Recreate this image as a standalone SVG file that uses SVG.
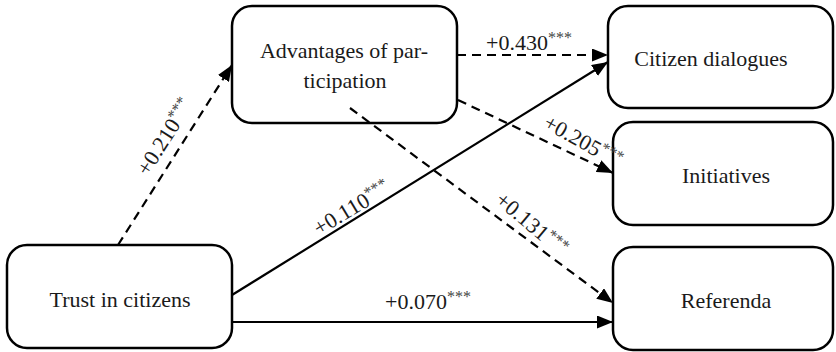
<svg xmlns="http://www.w3.org/2000/svg" width="836" height="352" viewBox="0 0 836 352">
<style>
.box{fill:#fff;stroke:#000;stroke-width:2.5}
.lbl{font-family:Liberation Serif, serif;font-size:22px;fill:#1a1a1a}
.mid{text-anchor:middle}
.sup{font-size:16px;fill:#444}
.ln{fill:none;stroke:#000;stroke-width:2.2}
.dash{stroke-dasharray:9 6}
</style>
<defs>
<marker id="ah" markerUnits="userSpaceOnUse" markerWidth="16" markerHeight="13" viewBox="0 0 16 13" refX="16" refY="6.5" orient="auto">
<path d="M0,0 L16,6.5 L0,13 Z" fill="#000"/>
</marker>
</defs>
<rect width="836" height="352" fill="#fff"/>
<g id="adv">
<rect class="box" x="232" y="6" width="225" height="117" rx="20"/>
<text class="lbl mid" style="font-family:'Liberation Serif',serif" x="344" y="58">Advantages of par-</text>
<text class="lbl mid" style="font-family:'Liberation Serif',serif" x="345" y="88">ticipation</text>
</g>
<g id="cit">
<rect class="box" x="608" y="6" width="225" height="102" rx="20"/>
<text class="lbl mid" style="font-family:'Liberation Serif',serif" x="711" y="66">Citizen dialogues</text>
</g>
<g id="ini">
<rect class="box" x="613" y="122" width="220" height="103" rx="20"/>
<text class="lbl mid" style="font-family:'Liberation Serif',serif" x="726" y="183">Initiatives</text>
</g>
<g id="ref">
<rect class="box" x="613" y="247" width="220" height="103" rx="20"/>
<text class="lbl mid" style="font-family:'Liberation Serif',serif" x="726" y="308">Referenda</text>
</g>
<g id="trust">
<rect class="box" x="7" y="245" width="225" height="103" rx="20"/>
<text class="lbl mid" style="font-family:'Liberation Serif',serif" x="120" y="307">Trust in citizens</text>
</g>
<g id="connectors">
<path class="ln dash" d="M118,245 L232,65" marker-end="url(#ah)"/>
<path class="ln dash" d="M457,55 L608,55" marker-end="url(#ah)"/>
<path class="ln" d="M232,295 L608,62" marker-end="url(#ah)"/>
<path class="ln dash" d="M458,100 L613,173" marker-end="url(#ah)"/>
<path class="ln dash" d="M350,108 L613,303" marker-end="url(#ah)"/>
<path class="ln" d="M232,322 L613,322" marker-end="url(#ah)"/>
<text class="lbl" style="font-family:'Liberation Serif',serif" transform="translate(148,177) rotate(-57.6)">+0.210<tspan class="sup" dy="-7">***</tspan></text>
<text class="lbl" style="font-family:'Liberation Serif',serif" x="486" y="50">+0.430<tspan class="sup" dy="-7">***</tspan></text>
<text class="lbl" style="font-family:'Liberation Serif',serif" transform="translate(319,236) rotate(-31)">+0.110<tspan class="sup" dy="-7">***</tspan></text>
<text class="lbl" style="font-family:'Liberation Serif',serif" transform="translate(542,127) rotate(29)">+0.205<tspan class="sup" dy="-7">***</tspan></text>
<text class="lbl" style="font-family:'Liberation Serif',serif" transform="translate(494,202) rotate(40)">+0.131<tspan class="sup" dy="-7">***</tspan></text>
<text class="lbl" style="font-family:'Liberation Serif',serif" x="385" y="309">+0.070<tspan class="sup" dy="-7">***</tspan></text>
</g>
</svg>
